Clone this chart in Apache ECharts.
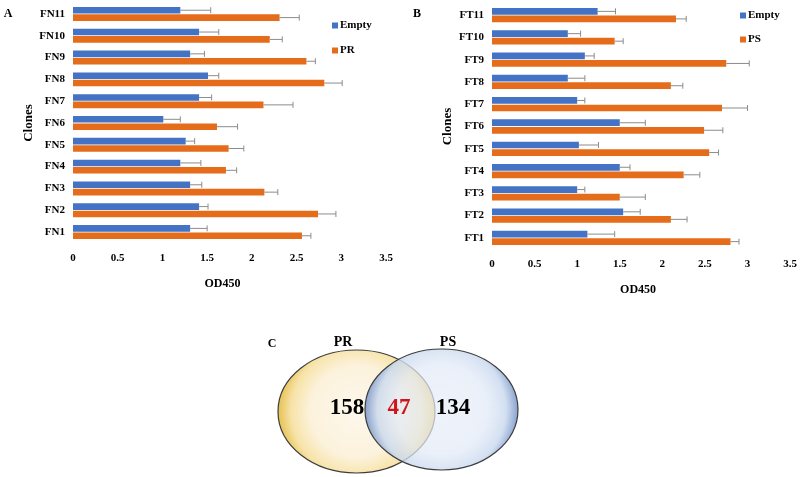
<!DOCTYPE html>
<html><head><meta charset="utf-8">
<script src="https://cdn.jsdelivr.net/npm/echarts@6/dist/echarts.min.js"></script>
<style>html,body{margin:0;padding:0;background:#fff}#c{width:800px;height:477px}</style>
</head><body><div id="c"></div>
<script>
const catsA = ['FN1','FN2','FN3','FN4','FN5','FN6','FN7','FN8','FN9','FN10','FN11'];
const emptyA = [1.31,1.41,1.31,1.20,1.26,1.01,1.41,1.51,1.31,1.41,1.20];
const emptyAErr = [0.19,0.10,0.13,0.23,0.10,0.19,0.14,0.12,0.16,0.22,0.34];
const prA = [2.56,2.74,2.14,1.71,1.74,1.61,2.13,2.81,2.61,2.20,2.31];
const prAErr = [0.10,0.20,0.15,0.12,0.17,0.23,0.33,0.20,0.10,0.14,0.22];

const catsB = ['FT1','FT2','FT3','FT4','FT5','FT6','FT7','FT8','FT9','FT10','FT11'];
const emptyB = [1.12,1.54,1.00,1.50,1.02,1.50,1.00,0.89,1.09,0.89,1.24];
const emptyBErr = [0.32,0.20,0.09,0.12,0.23,0.30,0.09,0.20,0.11,0.15,0.21];
const psB = [2.80,2.10,1.50,2.25,2.55,2.49,2.70,2.10,2.75,1.44,2.16];
const psBErr = [0.10,0.19,0.30,0.19,0.11,0.22,0.30,0.14,0.27,0.10,0.12];

const xTicks = [0,0.5,1,1.5,2,2.5,3,3.5];
const vennLabels = ['PR','PS'];
const vennCounts = [158,47,134];

const FONT = '"Liberation Serif","Times New Roman",serif';
const BLUE = '#4472c4', ORANGE = '#e46c1b';
const CATGAP = 0.36, BARGAP = 0.12;

function errSeries(name, grid, vals, errs, slot) {
  return {
    type: 'custom', name: name, xAxisIndex: grid, yAxisIndex: grid, z: 5,
    data: vals.map((v, i) => [v, i, errs[i]]),
    encode: {x: [0], y: 1},
    renderItem: function (params, api) {
      const v = api.value(0), i = api.value(1), e = api.value(2);
      const band = api.size([0, 1])[1];
      const usable = band * (1 - CATGAP);
      const w = usable / (2 + BARGAP);
      const off = -usable / 2 + w / 2 + slot * w * (1 + BARGAP);
      const p0 = api.coord([v, i]);
      const p1 = api.coord([v + e, i]);
      const y = p0[1] + off;
      const st = {stroke: '#8c8c8c', lineWidth: 1};
      return {type: 'group', children: [
        {type: 'line', shape: {x1: p0[0], y1: y, x2: p1[0], y2: y}, style: st},
        {type: 'line', shape: {x1: p1[0], y1: y - 3, x2: p1[0], y2: y + 3}, style: st}
      ]};
    }
  };
}

function barSeries(name, grid, vals, color) {
  return {type: 'bar', name: name, xAxisIndex: grid, yAxisIndex: grid,
    data: vals, itemStyle: {color: color}, barCategoryGap: (CATGAP*100)+'%', barGap: (BARGAP*100)+'%'};
}

function xAxis(grid, shift) {
  return {type: 'value', gridIndex: grid, min: 0, max: 3.5, interval: 0.5,
    axisLine: {show: false}, axisTick: {show: false}, splitLine: {show: false},
    axisLabel: {fontFamily: FONT, fontWeight: 'bold', fontSize: 11, color: '#000', margin: 10,
      formatter: v => String(v)},
    name: 'OD450', nameLocation: 'middle', nameGap: 35,
    nameTextStyle: {fontFamily: FONT, fontWeight: 'bold', fontSize: 12, color: '#000', padding: [0, shift, 0, 0]}};
}
function yAxis(grid, cats, gap) {
  return {type: 'category', gridIndex: grid, data: cats,
    axisLine: {show: false}, axisTick: {show: false},
    axisLabel: {fontFamily: FONT, fontWeight: 'bold', fontSize: 11, color: '#000', margin: 8},
    name: 'Clones', nameLocation: 'middle', nameGap: gap, nameRotate: 90,
    nameTextStyle: {fontFamily: FONT, fontWeight: 'bold', fontSize: 13, color: '#000'}};
}

const chart = echarts.init(document.getElementById('c'));
const txt = (t, x, y, size, color, align) => ({type: 'text', x: x, y: y,
  style: {text: t, fontFamily: FONT, fontWeight: 'bold', fontSize: size, fill: color || '#000',
    align: align || 'center', verticalAlign: 'middle'}});

chart.setOption({
  animation: false,
  grid: [
    {left: 73, top: 3, width: 313, height: 240},
    {left: 492, top: 4, width: 301, height: 245}
  ],
  xAxis: [xAxis(0, 14), xAxis(1, 6)],
  yAxis: [yAxis(0, catsA, 35), yAxis(1, catsB, 38)],
  legend: [
    {data: ['Empty', 'PR'], orient: 'vertical', left: 332, top: 20, padding: 0, itemWidth: 6, itemHeight: 6, itemGap: 14,
      icon: 'rect', textStyle: {fontFamily: FONT, fontWeight: 'bold', fontSize: 11, color: '#000', padding: [0,0,0,-3]}},
    {data: ['Empty', 'PS'], orient: 'vertical', left: 740, top: 10, padding: 0, itemWidth: 6, itemHeight: 6, itemGap: 13,
      icon: 'rect', textStyle: {fontFamily: FONT, fontWeight: 'bold', fontSize: 11, color: '#000', padding: [0,0,0,-3]}}
  ],
  series: [
    barSeries('Empty', 0, emptyA, BLUE),
    barSeries('PR', 0, prA, ORANGE),
    errSeries('errEA', 0, emptyA, emptyAErr, 0),
    errSeries('errPA', 0, prA, prAErr, 1),
    barSeries('Empty', 1, emptyB, BLUE),
    barSeries('PS', 1, psB, ORANGE),
    errSeries('errEB', 1, emptyB, emptyBErr, 0),
    errSeries('errPB', 1, psB, psBErr, 1)
  ],
  graphic: [
    txt('A', 8, 14, 12),
    txt('B', 417, 14, 12),
    txt('C', 272, 344, 12),
    {type: 'ellipse', shape: {cx: 356.5, cy: 411.5, rx: 78.5, ry: 61.5}, z: 1,
      style: {fill: {type: 'radial', x: 0.5, y: 0.5, r: 0.62, colorStops: [
        {offset: 0, color: '#fdf8ec'}, {offset: 0.6, color: '#fcf2dc'}, {offset: 0.85, color: '#f7e3a8'}, {offset: 1, color: '#e8c45a'}]},
        stroke: '#3d3d3d', lineWidth: 1.2}},
    {type: 'ellipse', shape: {cx: 441.5, cy: 409.5, rx: 76.5, ry: 60.5}, z: 2,
      style: {fill: {type: 'radial', x: 0.5, y: 0.5, r: 0.62, colorStops: [
        {offset: 0, color: 'rgba(232,238,248,0.7)'}, {offset: 0.6, color: 'rgba(226,234,247,0.72)'}, {offset: 0.85, color: 'rgba(200,216,238,0.8)'}, {offset: 1, color: 'rgba(120,150,200,0.85)'}]},
        stroke: '#3d3d3d', lineWidth: 1.2}},
    Object.assign(txt(vennLabels[0], 343, 342, 14), {z: 3}),
    Object.assign(txt(vennLabels[1], 448, 342, 14), {z: 3}),
    Object.assign(txt(String(vennCounts[0]), 347, 408, 23), {z: 3}),
    Object.assign(txt(String(vennCounts[1]), 399, 408, 23, '#d0141c'), {z: 3}),
    Object.assign(txt(String(vennCounts[2]), 453, 408, 23), {z: 3})
  ]
});
</script></body></html>
